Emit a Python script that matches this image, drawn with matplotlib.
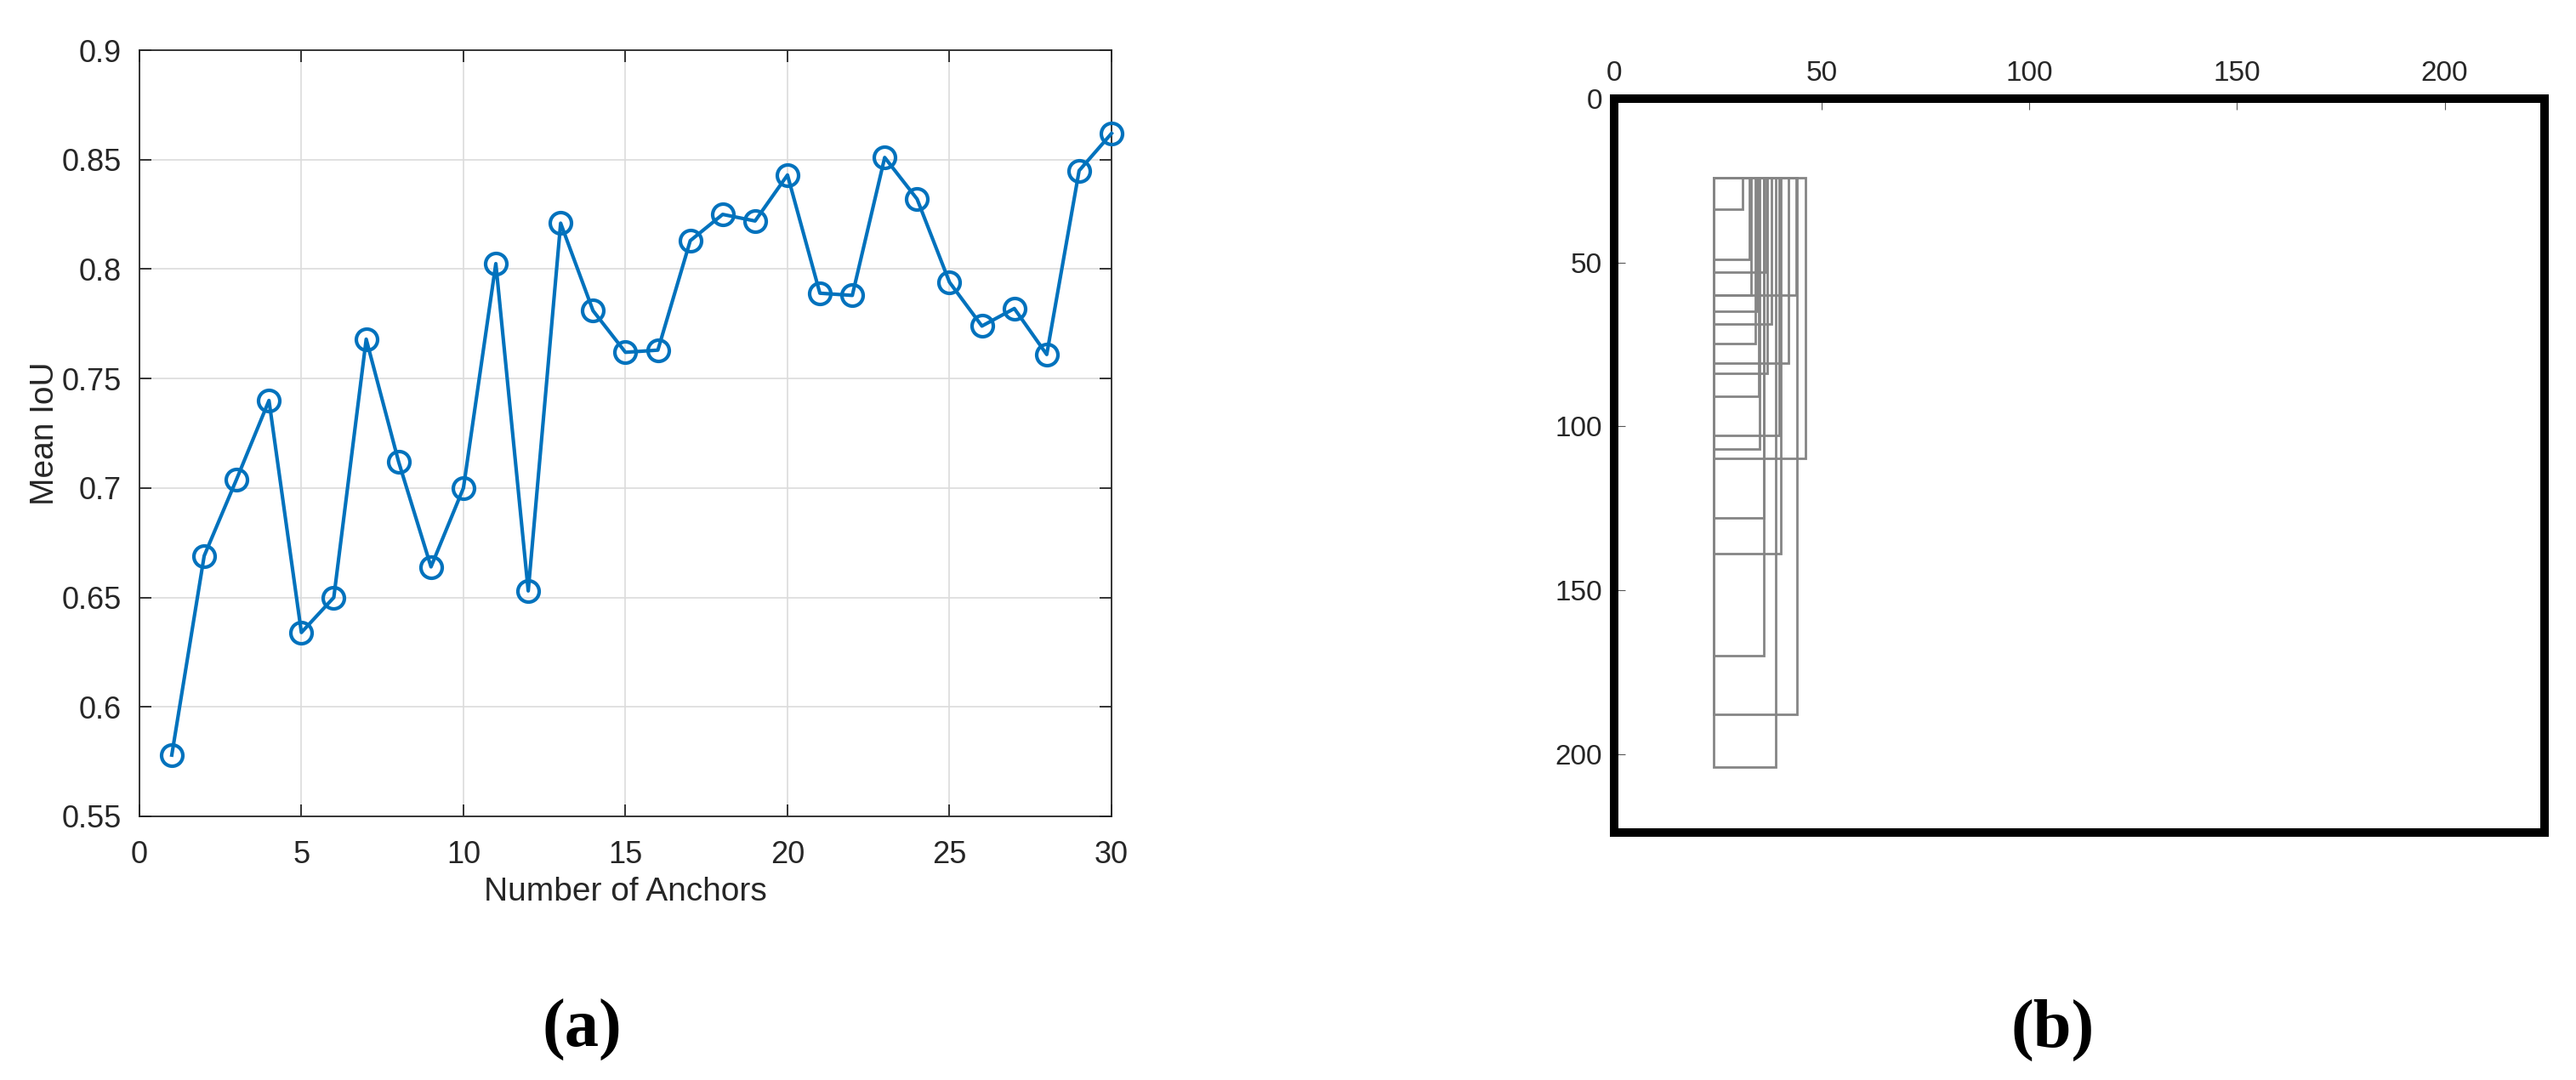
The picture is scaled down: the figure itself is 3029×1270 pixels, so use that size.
import matplotlib.pyplot as plt
from matplotlib.patches import Rectangle
import numpy as np

plt.rcParams['font.family'] = ['Liberation Sans', 'DejaVu Sans']

# (a) mean IoU vs number of anchors
num_anchors = list(range(1, 31))
mean_iou = [0.578, 0.669, 0.704, 0.740, 0.634, 0.650, 0.768, 0.712, 0.664, 0.700,
            0.8025, 0.653, 0.821, 0.781, 0.762, 0.763, 0.813, 0.825, 0.822, 0.843,
            0.789, 0.788, 0.851, 0.832, 0.794, 0.774, 0.782, 0.761, 0.845, 0.862]

# (b) anchor boxes drawn from a common corner, 224 x 224 image
img_size = 224
anchor_origin = (24, 24)
anchor_w = [7, 8.7, 12.7, 9, 19.9, 10.5, 14, 10.1, 18.1, 13,
            10.8, 15.7, 11.1, 22.2, 12, 16.1, 12, 20, 15]
anchor_h = [9.7, 25, 28.9, 36, 36, 40.8, 44.8, 50.8, 56.6, 59.9,
            66.8, 78.7, 82.8, 85.8, 104, 114.8, 146, 164, 180]

blue = '#0072BD'
axcol = '#262626'

fig = plt.figure(figsize=(30.29, 12.7), dpi=100)

# ---- panel (a)
ax1 = fig.add_axes([0.0541, 0.2441, 0.3774, 0.7094])
ax1.plot(num_anchors, mean_iou, '-o', color=blue, lw=3, ms=18,
         mfc='none', mew=3, clip_on=False, zorder=3)
ax1.set_xlim(0, 30)
ax1.set_ylim(0.55, 0.9)
ax1.set_xticks(np.arange(0, 31, 5))
ax1.set_yticks(np.arange(0.55, 0.901, 0.05))
ax1.set_yticklabels(['0.55', '0.6', '0.65', '0.7', '0.75', '0.8', '0.85', '0.9'])
ax1.grid(True, color='#dcdcdc', lw=1.2)
ax1.set_axisbelow(True)
ax1.tick_params(direction='in', length=10, width=1.3, colors=axcol,
                labelsize=26, top=True, right=True, pad=15)
ax1.tick_params(axis='x', pad=20)
for s in ax1.spines.values():
    s.set_color(axcol)
    s.set_linewidth(1.3)
ax1.set_xlabel('Number of Anchors', fontsize=28, color=axcol, labelpad=6)
ax1.set_ylabel('Mean IoU', fontsize=28, color=axcol, labelpad=1)

# ---- panel (b)
ax2 = fig.add_axes([0.6265, 0.2291, 0.3612, 0.6795])
for w, h in zip(anchor_w, anchor_h):
    ax2.add_patch(Rectangle(anchor_origin, w, h, fill=False,
                            edgecolor='#858585', lw=2.0))
ax2.set_xlim(0, img_size)
ax2.set_ylim(img_size, 0)
ax2.set_xticks([0, 50, 100, 150, 200])
ax2.set_yticks([0, 50, 100, 150, 200])
ax2.xaxis.tick_top()
ax2.tick_params(direction='in', length=9, width=0.8, color='#555555',
                labelcolor='#262626', labelsize=24, pad=10)
for s in ax2.spines.values():
    s.set_color('black')
    s.set_linewidth(7.2)

fig.text(0.2258, 0.046, '(a)', fontsize=58, fontweight='bold',
         family='Liberation Serif', ha='center', va='center')
fig.text(0.797, 0.046, '(b)', fontsize=58, fontweight='bold',
         family='Liberation Serif', ha='center', va='center')

fig.savefig('out.png', dpi=100)
